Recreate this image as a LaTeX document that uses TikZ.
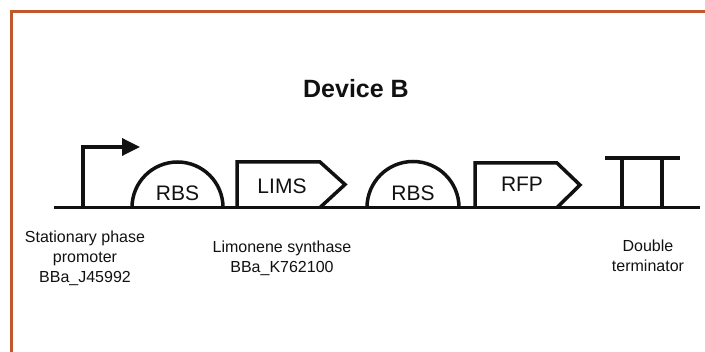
\documentclass[tikz,border=0pt]{standalone}
\usepackage{fontspec}
\setmainfont{Liberation Sans}
\usetikzlibrary{arrows.meta,positioning}
\definecolor{devInk}{HTML}{111111}
\definecolor{devFrame}{HTML}{C1582B}
\tikzset{
  every picture/.style={text=devInk},
  dev frame/.style={draw=devFrame, line width=3pt},
  dev part/.style={draw=devInk, line width=3.5pt, line join=miter},
  dev promoter/.style={dev part, -{Triangle[length=18pt,width=17pt]}},
  dev inner/.style={font=\fontsize{21}{24}\selectfont, anchor=base, inner sep=0pt},
  dev label/.style={font=\fontsize{16}{20}\selectfont, align=center,
    anchor=north, inner sep=0pt},
  dev title/.style={font=\fontsize{25}{28}\selectfont\bfseries, anchor=base,
    inner sep=0pt}
}
\begin{document}
\begin{tikzpicture}[x=1pt, y=-1pt]
  \useasboundingbox (0,0) rectangle (705,352);
  \draw[dev frame] (11.5,352) -- (11.5,11.5) -- (705,11.5);
  \node[dev title] (title) at (356,98) {Device B};
  % backbone
  \coordinate (dnaL) at (54,207.5);
  \coordinate (dnaR) at (700,207.5);
  \draw[dev part] (dnaL) -- (dnaR);
  % promoter
  \coordinate (prom) at (83,207.5);
  \coordinate (promTip) at (140,147);
  \draw[dev promoter] (prom) |- (promTip);
  % RBS 1
  \draw[dev part] (132,207.5) arc[start angle=180, end angle=360, radius=45.5];
  \node[dev inner] (rbsA) at (177.5,201) {RBS};
  % LIMS
  \draw[dev part] (237,207.5) -- (237,162) -- (320,162) -- (345,184.5) -- (320,207.5);
  \node[dev inner] (lims) at (282,194) {LIMS};
  % RBS 2
  \draw[dev part] (367,207.5) arc[start angle=180, end angle=360, radius=46];
  \node[dev inner] (rbsB) at (413,201) {RBS};
  % RFP
  \draw[dev part] (475,207.5) -- (475,163) -- (557,163) -- (580,185) -- (557,207.5);
  \node[dev inner] (rfp) at (522,192) {RFP};
  % double terminator
  \draw[dev part] (605,158) -- (680,158);
  \draw[dev part] (622,158) -- (622,207.5);
  \draw[dev part] (662,158) -- (662,207.5);
  % labels
  \node[dev label] (promLabel) at (85,230.5) {Stationary phase\\promoter\\BBa\_J45992};
  \node[dev label] (limsLabel) at (282,241) {Limonene synthase\\BBa\_K762100};
  \node[dev label] (termLabel) at (648,240) {Double\\terminator};
\end{tikzpicture}
\end{document}
